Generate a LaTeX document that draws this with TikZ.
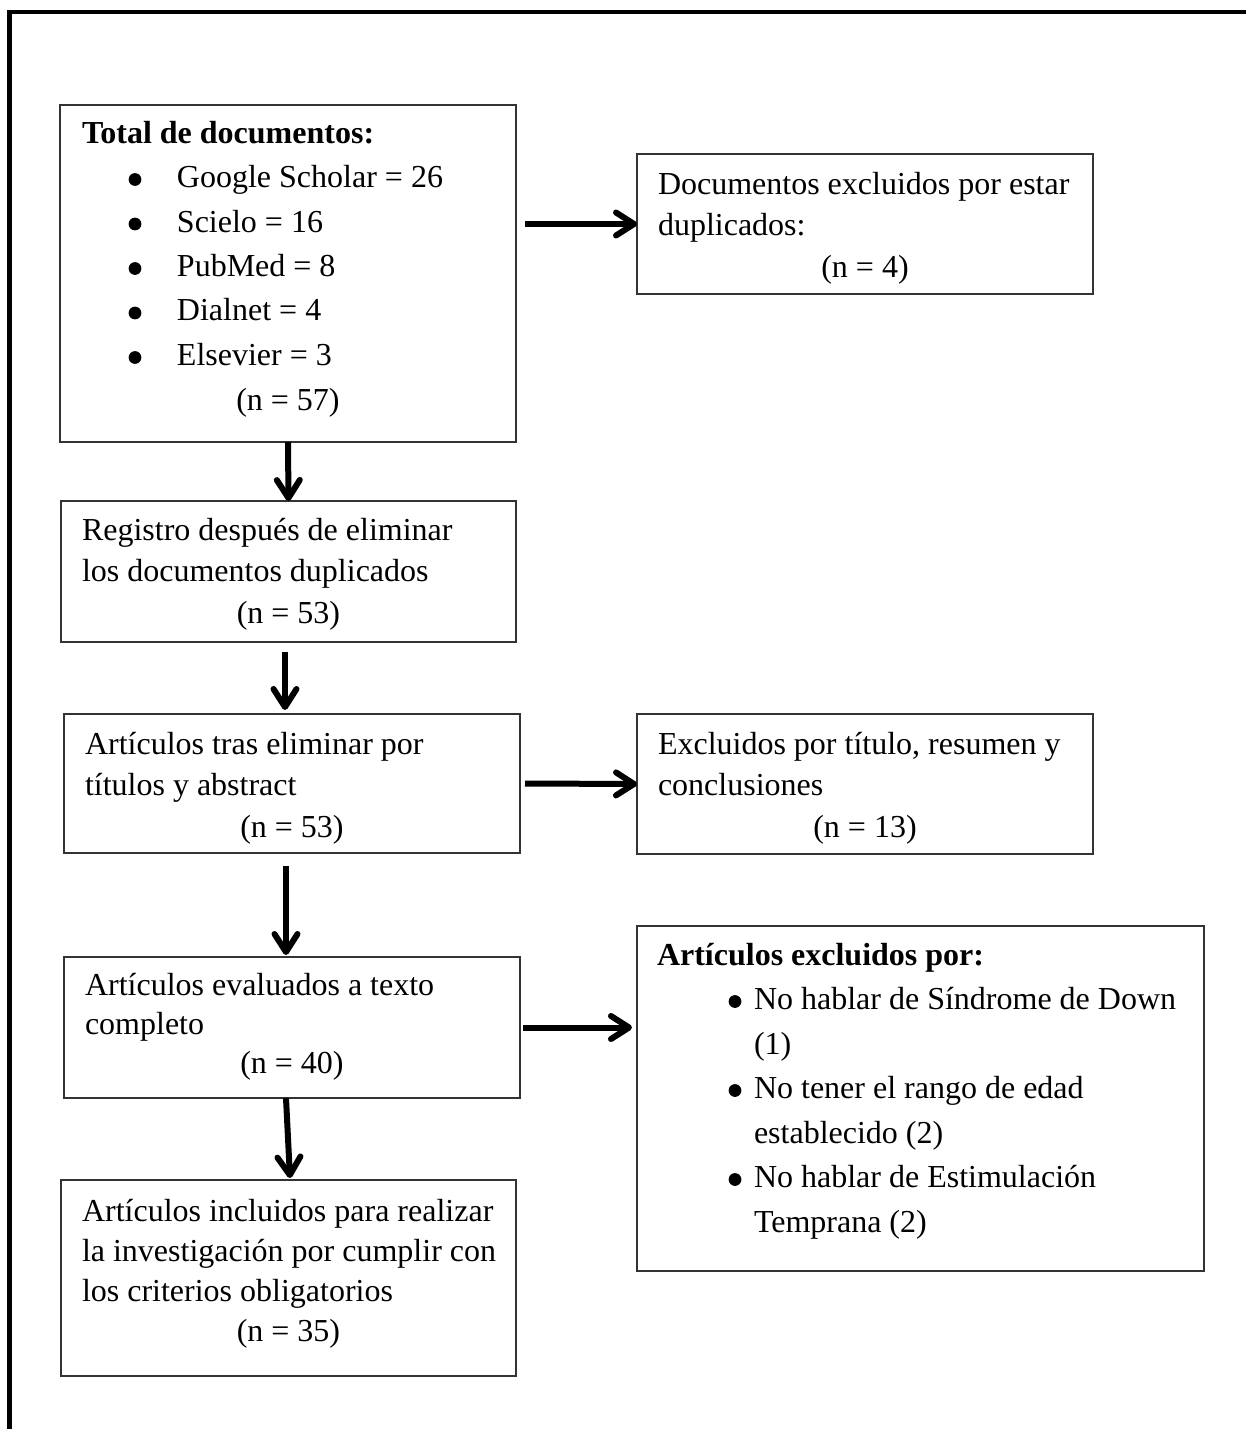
\documentclass[tikz,border=0pt]{standalone}
\usepackage{fontspec}
\setmainfont{Liberation Serif}
\usetikzlibrary{arrows.meta,calc}

% text helpers
\newcommand{\FS}[1]{\rule{0pt}{#1}}
\newcommand{\TL}[2]{\noindent\hspace*{#1}#2\par}
\newcommand{\CL}[1]{\noindent\makebox[\linewidth]{#1}\par}
\newcommand{\Dot}{\raisebox{0.8pt}{\tikz[x=1pt,y=1pt]\fill (0,0) circle (3.2pt);}}
\newcommand{\BL}[3]{\noindent\hspace*{#1}\makebox[0pt]{\Dot}\hspace*{\dimexpr#2-#1\relax}#3\par}
\newcommand{\BoxBody}[4]{\begin{minipage}[t][#2][t]{#1}\fontsize{16pt}{#3}\selectfont\parindent0pt\parskip0pt #4\end{minipage}}

\tikzset{
  flowbox/.style={draw=black!80, line width=0.8pt, inner sep=0pt, outer sep=0pt, anchor=north west},
  arr/.style={line width=3pt, -{Straight Barb[length=9pt,width=11.5pt,round]}},
  frame/.style={line width=2.3pt}
}

\begin{document}
\begin{tikzpicture}[x=0.5pt,y=-0.5pt]
\useasboundingbox (0,0) rectangle (1246,1429);

% outer frame (top and left edges)
\draw[frame] (9.5,1440) -- (9.5,12) -- (1250,12);

\node[flowbox] (B1) at (60,105) {\BoxBody{228pt}{168.5pt}{22.25pt}{%
  \TL{11pt}{\FS{19pt}\textbf{Total de documentos:}}
  \BL{37.5pt}{58.5pt}{Google Scholar = 26}
  \BL{37.5pt}{58.5pt}{Scielo = 16}
  \BL{37.5pt}{58.5pt}{PubMed = 8}
  \BL{37.5pt}{58.5pt}{Dialnet = 4}
  \BL{37.5pt}{58.5pt}{Elsevier = 3}
  \CL{(n = 57)}}};

\node[flowbox] (D) at (637,154) {\BoxBody{228pt}{70pt}{20.75pt}{%
  \TL{10.5pt}{\FS{20pt}Documentos excluidos por estar}
  \TL{10.5pt}{duplicados:}
  \CL{(n = 4)}}};

\node[flowbox] (B2) at (61,501) {\BoxBody{227.5pt}{70.5pt}{20.75pt}{%
  \TL{10.5pt}{\FS{19.5pt}Registro después de eliminar}
  \TL{10.5pt}{los documentos duplicados}
  \CL{(n = 53)}}};

\node[flowbox] (B3) at (64,714) {\BoxBody{228pt}{69.5pt}{20.75pt}{%
  \TL{10.5pt}{\FS{20pt}Artículos tras eliminar por}
  \TL{10.5pt}{títulos y abstract}
  \CL{(n = 53)}}};

\node[flowbox] (E) at (637,714) {\BoxBody{228pt}{70pt}{20.75pt}{%
  \TL{10.5pt}{\FS{20pt}Excluidos por título, resumen y}
  \TL{10.5pt}{conclusiones}
  \CL{(n = 13)}}};

\node[flowbox] (B4) at (64,957) {\BoxBody{228pt}{70.5pt}{19.5pt}{%
  \TL{10.5pt}{\FS{19pt}Artículos evaluados a texto}
  \TL{10.5pt}{completo}
  \CL{(n = 40)}}};

\node[flowbox] (F) at (637,926) {\BoxBody{283.5pt}{172.5pt}{22.25pt}{%
  \TL{10pt}{\FS{19.5pt}\textbf{Artículos excluidos por:}}
  \BL{49pt}{58.5pt}{No hablar de Síndrome de Down}
  \TL{58.5pt}{(1)}
  \BL{49pt}{58.5pt}{No tener el rango de edad}
  \TL{58.5pt}{establecido (2)}
  \BL{49pt}{58.5pt}{No hablar de Estimulación}
  \TL{58.5pt}{Temprana (2)}}};

\node[flowbox] (B5) at (61,1180) {\BoxBody{227.5pt}{98pt}{20pt}{%
  \TL{10.5pt}{\FS{20.5pt}Artículos incluidos para realizar}
  \TL{10.5pt}{la investigación por cumplir con}
  \TL{10.5pt}{los criterios obligatorios}
  \CL{(n = 35)}}};

% connectors
\draw[arr] ($(D.west -| B1.east)+(9,0)$) -- (D.west);
\draw[arr] (B1.south) -- (B2.north);
\draw[arr] ($(B2.south)+(-3.5,10)$) -- ($(B3.north)+(-7,-4)$);
\draw[arr] ($(B3.east)+(5,0)$) -- (E.west);
\draw[arr] ($(B3.south)+(-6,13)$) -- ($(B4.north)+(-6,-2)$);
\draw[arr] ($(B4.east)+(3,0)$) -- ($(F.west |- B4.east)+(-5,0)$);
\draw[arr] ($(B4.south)+(-6,0)$) -- ($(B5.north)+(1.5,-2)$);
\end{tikzpicture}
\end{document}
